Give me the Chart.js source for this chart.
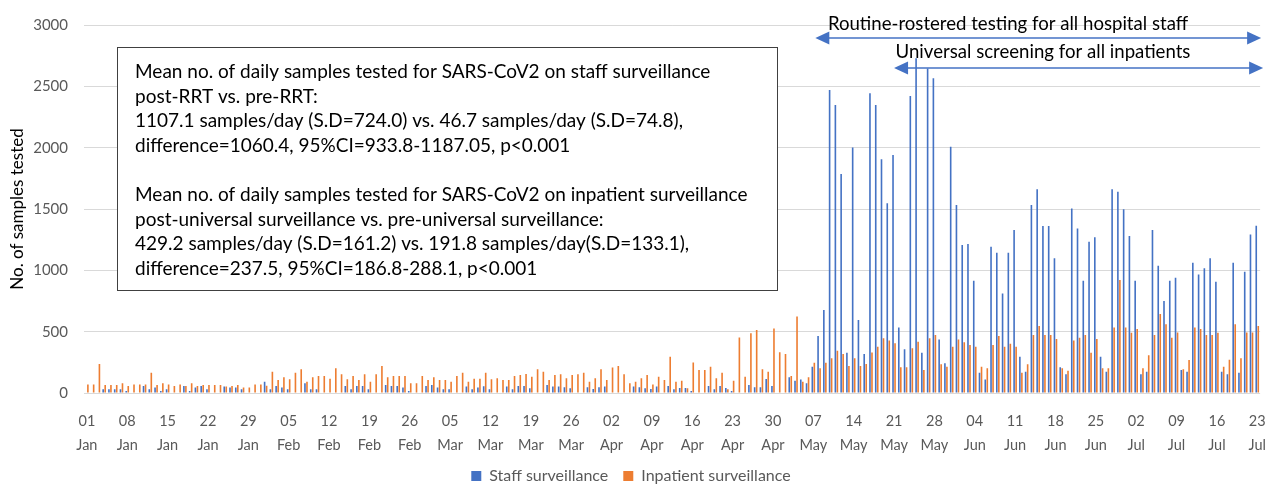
<!DOCTYPE html>
<html>
<head>
<meta charset="utf-8">
<script src="https://cdn.jsdelivr.net/npm/chart.js@4.4.1/dist/chart.umd.min.js"></script>
<style>
  body { margin: 0; background: #fff; }
  canvas { display: block; }
</style>
</head>
<body>
<canvas id="testsChart" width="1274" height="486"></canvas>
<script>
// daily counts, 01 Jan - 23 Jul
const staffSurveillance = [
  0, 0, 0, 30, 30, 30, 30, 16, 0, 0,
  57, 30, 44, 16, 30, 0, 0, 57, 16, 44,
  57, 30, 0, 0, 52, 44, 44, 30, 0, 0,
  0, 92, 30, 57, 44, 30, 0, 0, 79, 30,
  30, 0, 0, 0, 0, 57, 30, 57, 57, 30,
  0, 0, 65, 57, 57, 44, 16, 0, 0, 57,
  65, 44, 30, 30, 0, 0, 52, 30, 44, 55,
  30, 0, 0, 52, 30, 57, 57, 38, 0, 0,
  65, 52, 52, 46, 38, 0, 0, 46, 33, 46,
  52, 0, 0, 0, 0, 52, 46, 38, 33, 52,
  0, 57, 30, 41, 41, 16, 0, 0, 57, 30,
  57, 41, 16, 0, 0, 65, 46, 46, 114, 57,
  0, 0, 128, 100, 111, 79, 215, 465, 677, 2470,
  2348, 1785, 329, 2002, 595, 318, 2443, 2348, 1905, 1546,
  1940, 533, 356, 2421, 2728, 329, 2646, 2565, 437, 242,
  2008, 1532, 1206, 1215, 916, 166, 111, 1193, 1144, 812,
  1144, 1329, 296, 174, 1532, 1660, 1361, 1361, 1098, 209,
  152, 1505, 1342, 916, 1234, 1269, 296, 174, 1660, 1641,
  1497, 1280, 916, 152, 174, 1329, 1038, 750, 916, 940,
  187, 174, 1062, 967, 1016, 1098, 907, 174, 152, 1062,
  166, 989, 1293, 1364
];

const inpatientSurveillance = [
  70, 70, 237, 65, 65, 65, 80, 57, 70, 70,
  70, 166, 65, 80, 70, 57, 70, 57, 80, 57,
  65, 65, 65, 65, 52, 57, 65, 44, 44, 70,
  70, 60, 174, 106, 128, 112, 166, 193, 92, 128,
  139, 139, 117, 201, 152, 112, 139, 106, 152, 92,
  152, 220, 128, 139, 139, 139, 79, 79, 139, 106,
  128, 106, 106, 92, 139, 166, 92, 117, 117, 166,
  112, 120, 106, 106, 139, 147, 155, 133, 193, 174,
  106, 147, 152, 120, 147, 152, 166, 92, 120, 193,
  106, 207, 220, 152, 79, 92, 120, 147, 70, 133,
  106, 296, 92, 100, 38, 248, 188, 188, 215, 120,
  166, 30, 100, 452, 133, 487, 514, 193, 174, 525,
  332, 318, 139, 623, 92, 128, 247, 201, 247, 283,
  345, 318, 220, 283, 220, 236, 331, 378, 446, 427,
  405, 209, 209, 364, 418, 187, 446, 473, 234, 215,
  378, 437, 413, 391, 378, 215, 201, 391, 465, 378,
  402, 378, 166, 234, 473, 546, 473, 473, 440, 201,
  182, 427, 451, 473, 329, 440, 201, 201, 533, 921,
  533, 492, 522, 201, 307, 473, 644, 560, 451, 494,
  193, 269, 533, 522, 473, 473, 492, 215, 272, 560,
  283, 494, 494, 546
];

const monthNames = ['Jan', 'Feb', 'Mar', 'Apr', 'May', 'Jun', 'Jul'];
const seriesNames = ['Staff surveillance', 'Inpatient surveillance'];

const noteLines = [
  'Mean no. of daily samples tested for SARS-CoV2 on staff surveillance',
  'post-RRT vs. pre-RRT:',
  '1107.1 samples/day (S.D=724.0) vs. 46.7 samples/day (S.D=74.8),',
  'difference=1060.4, 95%CI=933.8-1187.05, p<0.001',
  '',
  'Mean no. of daily samples tested for SARS-CoV2 on inpatient surveillance',
  'post-universal surveillance vs. pre-universal surveillance:',
  '429.2 samples/day (S.D=161.2) vs. 191.8 samples/day(S.D=133.1),',
  'difference=237.5, 95%CI=186.8-288.1, p<0.001'
];

// day labels built from the calendar (Feb has 28 days here)
const dayLabels = staffSurveillance.map((_, i) => {
  const d = new Date(2021, 0, 1 + i);
  return [String(d.getDate()).padStart(2, '0'), monthNames[d.getMonth()]];
});

const FONT = 'Lato';
const BLUE = '#4472C4';
const ORANGE = '#ED7D31';

function arrow(ctx, x0, x1, y) {
  ctx.beginPath();
  ctx.moveTo(x0 + 10, y);
  ctx.lineTo(x1 - 10, y);
  ctx.stroke();
  [[x0, 1], [x1, -1]].forEach(([x, dir]) => {
    ctx.beginPath();
    ctx.moveTo(x, y);
    ctx.lineTo(x + dir * 14, y - 6.5);
    ctx.lineTo(x + dir * 14, y + 6.5);
    ctx.closePath();
    ctx.fill();
  });
}

const notesPlugin = {
  id: 'notes',
  afterDraw(chart) {
    const ctx = chart.ctx;
    const xs = chart.scales.x;
    ctx.save();

    // stats box
    ctx.fillStyle = '#fff';
    ctx.fillRect(117, 47, 660, 243);
    ctx.strokeStyle = '#404040';
    ctx.lineWidth = 1;
    ctx.strokeRect(117.5, 47.5, 660, 243);
    ctx.fillStyle = '#000';
    ctx.font = '19px ' + FONT;
    ctx.textBaseline = 'middle';
    ctx.textAlign = 'left';
    noteLines.forEach((t, i) => ctx.fillText(t, 135, 72 + i * 24.6));

    // period arrows
    ctx.strokeStyle = BLUE;
    ctx.fillStyle = BLUE;
    ctx.lineWidth = 1.5;
    const right = chart.chartArea.right;
    arrow(ctx, xs.getPixelForValue(126) + 2, right + 1, 38);
    arrow(ctx, xs.getPixelForValue(140), right + 3, 68);

    ctx.fillStyle = '#000';
    ctx.font = '18.6px ' + FONT;
    ctx.textAlign = 'center';
    ctx.fillText('Routine-rostered testing for all hospital staff', 1008, 24);
    ctx.fillText('Universal screening for all inpatients', 1043, 52);
    ctx.restore();
  }
};

new Chart(document.getElementById('testsChart'), {
  type: 'bar',
  data: {
    labels: dayLabels,
    datasets: [
      { label: seriesNames[0], data: staffSurveillance, backgroundColor: BLUE },
      { label: seriesNames[1], data: inpatientSurveillance, backgroundColor: ORANGE }
    ]
  },
  options: {
    responsive: false,
    animation: false,
    devicePixelRatio: 1,
    categoryPercentage: 0.7,
    barPercentage: 0.8,
    layout: { padding: { left: 0, right: 12, top: 25, bottom: -8 } },
    scales: {
      x: {
        grid: { display: false },
        border: { display: false },
        ticks: {
          autoSkip: false,
          maxRotation: 0,
          padding: 8,
          color: '#595959',
          font: { family: FONT, size: 14.5, lineHeight: 1.66 },
          callback: function (value, index) {
            return index % 7 === 0 ? this.getLabelForValue(value) : null;
          }
        },
        afterFit: (scale) => { scale.height = 60; }
      },
      y: {
        min: 0,
        max: 3000,
        ticks: {
          stepSize: 500,
          padding: 16,
          color: '#595959',
          font: { family: FONT, size: 15 },
          callback: (v) => String(v)
        },
        grid: { color: '#d9d9d9', drawTicks: false },
        border: { display: false },
        title: {
          display: true,
          text: 'No. of samples tested',
          color: '#000',
          font: { family: FONT, size: 17 },
          padding: { top: 7, bottom: 0 }
        },
        afterFit: (scale) => { scale.width = 84; }
      }
    },
    plugins: {
      legend: {
        position: 'bottom',
        labels: {
          boxWidth: 10,
          boxHeight: 10,
          padding: 15,
          color: '#595959',
          font: { family: FONT, size: 16 }
        }
      },
      tooltip: { enabled: false }
    }
  },
  plugins: [notesPlugin]
});
</script>
</body>
</html>
